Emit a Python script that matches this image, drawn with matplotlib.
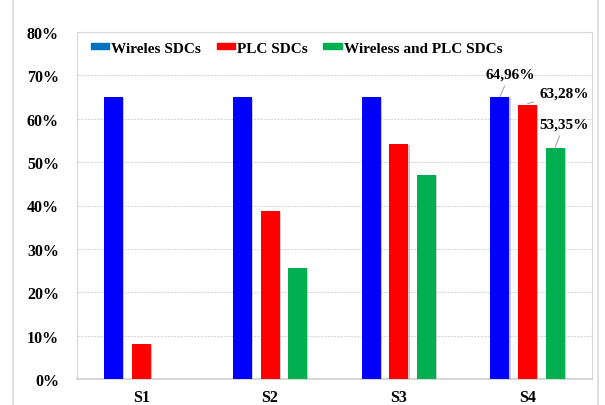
import matplotlib.pyplot as plt
import matplotlib.patheffects as pe
from matplotlib.patches import Rectangle
from matplotlib.ticker import PercentFormatter
import numpy as np

plt.rcParams["font.family"] = ["Liberation Serif", "DejaVu Serif"]
plt.rcParams["font.weight"] = "bold"

scenarios = ["S1", "S2", "S3", "S4"]
series_names = ["Wireles SDCs", "PLC SDCs", "Wireless and PLC SDCs"]
wireless = [65.0, 65.0, 65.0, 64.96]
plc = [8.1, 38.7, 54.1, 63.28]
wireless_plc = [0.0, 25.6, 47.0, 53.35]
labels_s4 = ["64,96%", "63,28%", "53,35%"]

bar_colors = ["#0000FF", "#FF0000", "#00B050"]
legend_colors = ["#0070C0", "#FF0000", "#00B050"]

fig = plt.figure(figsize=(6.05, 4.06), dpi=100)
ax = fig.add_axes([77 / 605, 1 - 380 / 406, 515 / 605, 347 / 406])

x = np.arange(len(scenarios))
width = 0.148
step = 0.215
shadow = [pe.SimplePatchShadow(offset=(0.8, -0.8), shadow_rgbFace="#999999", alpha=0.5),
          pe.Normal()]
series = [wireless, plc, wireless_plc]
for i, (values, color) in enumerate(zip(series, bar_colors)):
    vals = np.array(values)
    keep = vals > 0
    b = ax.bar(x[keep] + (i - 1) * step, vals[keep], width, color=color, zorder=3)
    for p in b:
        p.set_path_effects(shadow)

ax.set_xlim(-0.5, 3.5)
ax.set_ylim(0, 80)
ax.set_yticks(np.arange(0, 81, 10))
ax.yaxis.set_major_formatter(PercentFormatter(decimals=0))
ax.set_xticks(x)
ax.set_xticklabels(scenarios)
ax.tick_params(length=0, labelsize=11.5)
ax.tick_params(axis="y", pad=13)
ax.tick_params(axis="x", pad=7)
for lab in ax.get_xticklabels() + ax.get_yticklabels():
    lab.set_fontweight("bold")
ax.grid(axis="y", color="#d9d9d9", linestyle=(0, (2, 1)), linewidth=0.8, zorder=0)
for side in ["top", "right", "left"]:
    ax.spines[side].set_color("#d9d9d9")
    ax.spines[side].set_linestyle((0, (2, 1)))
    ax.spines[side].set_linewidth(0.8)
ax.spines["bottom"].set_color("#d0d0d0")
ax.spines["bottom"].set_linewidth(1.2)

# value labels on S4 with leader lines
label_pos = [(2.863, 70.3), (3.283, 65.9), (3.283, 58.8)]
for i, ((tx, ty), txt) in enumerate(zip(label_pos, labels_s4)):
    bar_x = 3 + (i - 1) * step
    top = series[i][3]
    ax.annotate(txt, xy=(bar_x, top + 0.2), xytext=(tx, ty),
                fontsize=11, fontweight="bold", ha="center", va="center",
                arrowprops=dict(arrowstyle="-", color="#a6a6a6", lw=0.8,
                                shrinkA=2, shrinkB=0))

handles = [Rectangle((0, 0), 1, 1, color=c) for c in legend_colors]
leg = ax.legend(handles, series_names, loc="upper left", bbox_to_anchor=(0.0, 1.012),
                ncol=3, frameon=False, fontsize=11, handlelength=1.2, handleheight=0.3,
                handletextpad=0.15, columnspacing=1.0)
for t in leg.get_texts():
    t.set_fontweight("bold")

# outer chart border
fig.add_artist(Rectangle((13 / 605, -0.01), 585 / 605, 1.05, transform=fig.transFigure,
                         fill=False, edgecolor="#d9d9d9", linewidth=1.2))

fig.savefig("out.png", dpi=100, facecolor="white")
